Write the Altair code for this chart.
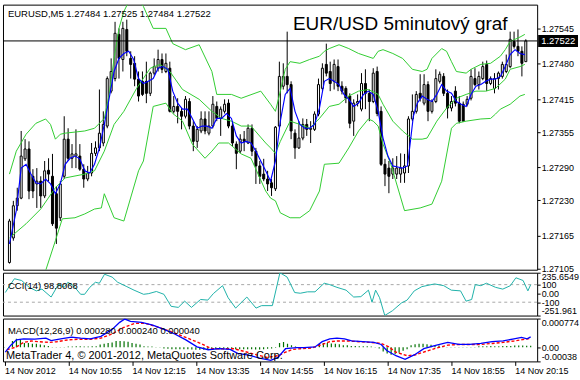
import altair as alt
import pandas as pd

FONT = "Liberation Sans"
PLOT_W = 536
XDOM = [-0.375, 133.625]

# ---------------- data (prices stored in points: price = 1 + pts / 100000) ----------------
open_pts = [
27116,27161,27220,27234,27306,27324,27274,27260,27265,27238,
27285,27274,27242,27198,27274,27342,27307,27311,27311,27287,
27269,27280,27316,27326,27335,27366,27430,27453,27534,27488,
27543,27490,27481,27452,27448,27448,27426,27463,27472,27488,
27466,27472,27393,27402,27393,27384,27411,27366,27338,27357,
27379,27353,27366,27402,27380,27393,27408,27366,27333,27320,
27342,27335,27362,27320,27293,27278,27269,27262,27251,27366,
27439,27457,27442,27353,27326,27344,27369,27360,27360,27388,
27435,27479,27466,27448,27475,27439,27435,27421,27375,27408,
27397,27444,27426,27411,27466,27393,27296,27289,27278,27278,
27278,27280,27293,27379,27393,27426,27408,27442,27393,27411,
27448,27457,27426,27399,27430,27408,27406,27406,27417,27453,
27442,27453,27479,27444,27435,27453,27457,27466,27475,27521,
27512,27503,27484]
high_pts = [
27196,27229,27253,27357,27342,27338,27287,27289,27274,27302,
27307,27315,27256,27265,27384,27362,27333,27360,27333,27296,
27293,27335,27338,27433,27393,27457,27490,27557,27545,27557,
27561,27503,27494,27466,27466,27484,27466,27490,27506,27499,
27499,27484,27421,27417,27399,27421,27417,27375,27366,27393,
27393,27393,27421,27411,27402,27415,27415,27375,27338,27351,
27357,27369,27369,27326,27302,27306,27284,27269,27366,27484,
27481,27539,27448,27360,27375,27380,27379,27375,27393,27453,
27481,27517,27484,27488,27488,27448,27439,27426,27415,27424,
27463,27470,27433,27472,27475,27402,27306,27302,27307,27311,
27316,27315,27384,27424,27430,27461,27461,27448,27415,27470,
27466,27463,27433,27421,27439,27421,27411,27421,27470,27472,
27466,27484,27486,27457,27463,27466,27484,27497,27539,27539,
27543,27512,27525]
low_pts = [
27114,27156,27211,27232,27302,27232,27234,27216,27216,27234,
27265,27183,27150,27192,27269,27302,27289,27289,27284,27253,
27265,27274,27311,27320,27329,27362,27426,27448,27453,27466,
27494,27453,27439,27411,27421,27408,27421,27459,27466,27463,
27463,27391,27389,27371,27360,27380,27360,27320,27326,27353,
27351,27349,27362,27375,27348,27389,27362,27329,27287,27316,
27320,27333,27311,27260,27260,27265,27247,27238,27247,27362,
27433,27426,27342,27306,27324,27340,27348,27335,27357,27384,
27431,27457,27430,27433,27430,27424,27408,27362,27348,27402,
27393,27397,27375,27408,27384,27293,27256,27243,27269,27269,
27262,27262,27280,27375,27389,27411,27404,27375,27389,27408,
27444,27421,27380,27393,27402,27371,27375,27402,27413,27439,
27433,27450,27430,27441,27426,27433,27453,27463,27472,27508,
27494,27457,27484]
close_pts = [
27192,27220,27234,27311,27324,27247,27247,27265,27238,27284,
27278,27187,27179,27260,27342,27307,27315,27315,27287,27269,
27280,27316,27326,27353,27369,27453,27466,27536,27490,27545,
27503,27479,27452,27421,27424,27426,27463,27475,27488,27470,
27481,27393,27402,27393,27384,27415,27366,27338,27360,27379,
27357,27366,27406,27380,27397,27406,27366,27335,27316,27342,
27338,27362,27320,27293,27274,27269,27260,27253,27364,27457,
27457,27442,27357,27326,27344,27369,27360,27362,27388,27442,
27472,27463,27444,27479,27439,27430,27417,27371,27408,27411,
27444,27426,27411,27463,27389,27296,27278,27274,27289,27289,
27289,27293,27379,27393,27424,27417,27442,27393,27411,27453,
27461,27426,27399,27411,27408,27375,27375,27415,27457,27442,
27457,27475,27444,27453,27453,27463,27479,27479,27525,27512,
27503,27481,27522]

# blue moving average (bar position, points)
ma_pos = [0,1.75,3,4.25,5.5,6.75,8,9.25,10.5,11.75,13,14.25,15.5,16.75,18,19.25,20.5,21.75,23,24.25,
          25.5,26.75,28,29.25,30.5,31.75,33,34.25,35.5,36.75,38,39.25,40.5,41.75,43,44.25,45.5,46.75,48,49.25,
          50.5,51.75,53,54.25,55.5,56.75,58,59.25,60.5,61.75,63,64.25,65.5,66.75,68,69.25,70.5,71.75,73,74.25,
          75.5,76.75,78,79.25,80.5,81.75,83,84.25,85.5,86.75,88,89.25,90.5,91.75,93,94.25,95.5,96.75,98,99.25,
          100.5,101.75,102.5,103.25,104.25,105.5,106.75,108,109.25,110.5,111.75,113,114.25,115.5,116.75,118,
          119.25,120.5,121.75,123,124.25,125.5,126.75,128,129.25,130.5,131.75]
ma_pts = [27150,27211,27289,27296,27278,27262,27260,27269,27260,27242,27260,27296,27307,27311,27306,27284,27280,27296,27326,27369,
          27417,27466,27490,27499,27503,27488,27453,27444,27448,27453,27472,27475,27470,27430,27408,27397,27397,27380,27362,27366,
          27366,27362,27380,27380,27389,27380,27348,27335,27338,27335,27320,27302,27284,27265,27302,27375,27424,27435,27393,27369,
          27362,27362,27369,27399,27448,27453,27448,27442,27424,27415,27402,27408,27424,27430,27424,27393,27344,27311,27293,27291,
          27289,27293,27338,27384,27408,27421,27415,27411,27424,27442,27430,27426,27411,27406,27402,27424,
          27439,27442,27448,27452,27452,27457,27475,27497,27506,27499,27497]

# Bollinger bands
upper_pos = [0,1.75,4.25,6.75,9.25,10.5,11.75,13,14.25,19.25,21.75,24.25,25.5,26.75,28,29.25,31.75,34.25,36.75,40,
             41.75,45,48.5,51.75,53,56.75,59.25,64.25,66.75,68,69.25,70.5,71.75,74.25,76.75,79.25,80.5,81.75,84.25,86.75,
             89.25,93,94.25,95.5,98,100.5,103,105.5,106.75,108,110.5,111.75,113,114.25,116.75,118,120.5,123,125.5,126.75,
             128,130.5,131.75]
upper_pts = [27278,27320,27351,27371,27379,27369,27342,27351,27353,27357,27362,27380,27424,27490,27545,27576,27612,27585,27545,27545,
             27517,27506,27515,27466,27424,27424,27417,27430,27406,27393,27430,27470,27484,27481,27488,27494,27503,27508,27515,27508,
             27499,27490,27503,27506,27499,27490,27470,27466,27470,27490,27508,27503,27484,27466,27463,27470,27479,27481,27494,27506,
             27521,27529,27534]
middle_pos = [0,4.25,8,11.75,14.25,19.25,21.75,24.25,26.75,29.25,32.5,36,38.5,41,44.25,48.5,51.75,54.25,56.75,59.25,
              61.75,65.5,66.75,68,69.25,71.75,74.25,76.75,79.25,81.75,84.25,86.75,89.25,91.75,94.25,95.5,98,100.5,103,105.5,
              106.75,109.25,111.75,114.25,116.75,119.25,121.75,124.25,126.75,128,130.5,131.75]
middle_pts = [27161,27187,27214,27253,27271,27278,27284,27320,27369,27393,27435,27472,27479,27466,27433,27415,27393,27380,27375,27366,
              27366,27335,27326,27316,27338,27375,27369,27362,27380,27402,27406,27421,27430,27433,27424,27406,27375,27357,27342,27342,
              27344,27375,27399,27417,27424,27430,27430,27435,27452,27470,27475,27479]
lower_pos = [0,4.25,9.25,11.75,13.5,16.75,19.25,21.75,23.5,24.25,26.75,29.25,33,34.25,36.75,40,41.75,44.25,46.75,50,
             51.75,53.5,56,59.25,61.75,65.5,66.75,68,69.25,71.75,74.25,76.75,79.25,80.5,84.25,86.75,89.25,91.75,93,94.25,
             95.5,97.5,101,105,108,110.5,113,114.25,116.75,120.5,123,124.25,125.5,128,130.5,131.75]
lower_pts = [26991,27046,27101,27156,27196,27198,27205,27214,27216,27242,27198,27192,27284,27302,27402,27408,27389,27375,27333,27307,
             27320,27335,27335,27315,27307,27247,27234,27229,27207,27198,27198,27211,27247,27296,27298,27326,27357,27379,27375,27366,
             27333,27296,27211,27216,27223,27265,27362,27371,27375,27379,27380,27388,27397,27406,27421,27424]

# CCI(14)
cci_pos = [0.2,1.6,2.5,4.3,6.2,8.0,9.4,11.7,13.6,15.0,15.9,17.3,19.1,20.1,21.4,22.8,23.8,25.1,27.0,28.4,
           30.7,32.5,34.9,36.2,38.1,40.0,41.8,43.6,45.2,46.9,49.2,51.0,52.4,54.7,56.1,58.0,60.8,63.1,64.5,67.2,
           69.1,70.9,72.8,74.2,76.0,77.9,80.2,81.6,83.4,85.7,87.6,89.4,91.3,92.2,93.1,94.1,95.4,97.3,99.6,101.0,
           102.8,104.7,107.9,110.2,112.1,114.4,115.8,117.2,118.1,119.5,120.9,123.2,125.0,126.9,128.3,130.1,131.3,132.0]
cci_val = [10,108,167,147,69,29,49,-41,108,69,127,88,-10,-10,69,127,116,218,186,127,
           77,37,-10,-2,22,-10,-147,-159,-88,-159,-69,-76,-2,88,-49,-167,-41,-167,-139,-139,
           235,186,10,2,18,18,116,100,69,37,-41,-37,37,-100,37,-49,-251,-198,-108,-76,
           29,77,108,88,37,29,-88,-69,100,88,116,69,49,88,178,147,29,98.8]
cci_levels = [100, -100]
cci_ticks = [235.6549, 100, 0, -100, -251.961]
cci_tick_text = ["235.6549", "100", "0.00", "-100", "-251.961"]

# MACD(12,26,9)  (values in millionths)
macd_pos = [0.2,1.6,3.0,4.8,7.6,10.4,11.7,14.1,16.8,19.1,21.5,24.2,27.0,28.9,30.2,31.6,34.4,37.2,40.0,42.7,
            45.5,48.3,51.1,53.8,56.6,58.5,61.2,64.0,66.8,68.6,70.5,73.3,75.1,77.9,79.7,81.6,83.4,85.3,87.1,89.9,
            92.7,94.5,95.9,98.2,100.5,102.9,105.2,108.4,111.2,114.0,116.7,119.5,122.3,125.1,127.8,129.7,131.1,132.0]
macd_e6 = [-132,57,199,227,218,246,180,227,274,246,227,293,482,672,760,700,672,596,482,359,
           199,10,-66,-38,-57,-161,-208,-293,-350,-274,-38,-10,-10,10,151,227,246,227,170,151,
           132,76,-85,-227,-322,-199,-38,57,132,76,76,104,151,170,227,265,227,280]
sig_pos = [0.6,3.0,4.8,6.7,8.5,11.3,13.1,15.9,18.7,21.5,24.2,27.0,29.8,32.6,35.3,38.1,40.9,43.7,46.4,49.2,
           52.0,54.8,57.5,60.3,63.1,65.9,68.6,70.5,72.3,74.2,77.0,79.7,81.6,83.4,86.2,89.0,91.8,94.5,96.4,98.2,
           101.0,102.9,105.6,108.4,111.2,114.0,116.7,119.5,122.3,125.1,127.8,130.6,132.0]
sig_e6 = [-66,10,132,170,151,132,151,199,218,218,246,359,530,643,643,558,454,341,227,104,
          -38,-38,-38,-114,-199,-274,-227,-132,-57,-38,-19,76,151,170,170,151,132,104,10,-132,
          -227,-208,-114,-19,57,76,76,76,104,132,170,218,240]
hist_e6 = [
    10,10,170,230,210,114,114,95,95,76,
    57,38,10,10,10,10,20,20,28,28,
    20,20,28,28,76,95,114,132,170,170,
    160,150,114,95,76,28,20,20,10,10,
    -30,-40,-50,-50,-50,-55,-55,-60,-65,-65,
    -65,-65,-60,-55,-50,-50,-50,-55,-55,-55,
    -50,-50,-55,-60,-60,-50,-40,-30,-15,114,
    140,95,57,20,10,10,10,10,10,95,
    114,114,104,95,85,57,57,38,38,28,
    28,28,20,10,-30,-110,-170,-200,-190,-150,
    -95,-50,57,85,95,95,85,66,57,47,
    38,10,10,10,10,10,10,10,10,28,
    28,28,38,28,28,38,38,38,47,47,
    47,40,40]
macd_ticks = [0.000774, 0.0, -0.00038]
macd_tick_text = ["0.000774", "0.00", "-0.00038"]

# axes / annotations
price_ticks = [1.27105, 1.27165, 1.27230, 1.27290, 1.27355, 1.27415, 1.27480, 1.27545]
time_ticks = [0, 16, 32, 48, 64, 80, 96, 112, 128]
time_labels = ["14 Nov 2012", "14 Nov 10:55", "14 Nov 12:15", "14 Nov 13:35", "14 Nov 14:55",
               "14 Nov 16:15", "14 Nov 17:35", "14 Nov 18:55", "14 Nov 20:15"]
header_text = ["EURUSD,M5  1.27484 1.27525 1.27484 1.27522"]
title_text = ["EUR/USD 5minutový graf"]
last_price = [1.27522]
last_price_text = ["1.27522"]
cci_text = ["CCI(14) 98.8068"]
macd_text = ["MACD(12,26,9) 0.000280 0.000240 0.000040"]
copyright_text = ["MetaTrader 4, © 2001-2012, MetaQuotes Software Corp."]


def to_price(v):
    return round(1.0 + v / 100000.0, 6)


def expr_for(vals, texts, tol):
    e = "''"
    for v, t in reversed(list(zip(vals, texts))):
        e = f"abs(datum.value - ({v})) < {tol} ? '{t}' : {e}"
    return e


candles = pd.DataFrame({
    "bar": list(range(len(open_pts))),
    "open": [to_price(v) for v in open_pts],
    "high": [to_price(v) for v in high_pts],
    "low": [to_price(v) for v in low_pts],
    "close": [to_price(v) for v in close_pts],
})
ma_df = pd.DataFrame({"pos": ma_pos, "price": [to_price(v) for v in ma_pts]})
bands = pd.concat([
    pd.DataFrame({"pos": upper_pos, "price": [to_price(v) for v in upper_pts], "band": "upper"}),
    pd.DataFrame({"pos": middle_pos, "price": [to_price(v) for v in middle_pts], "band": "middle"}),
    pd.DataFrame({"pos": lower_pos, "price": [to_price(v) for v in lower_pts], "band": "lower"}),
])
cci_df = pd.DataFrame({"pos": cci_pos, "cci": cci_val})
lev_df = pd.DataFrame({"lev": cci_levels})
macd_df = pd.DataFrame({"pos": macd_pos, "v": [x * 1e-6 for x in macd_e6]})
sig_df = pd.DataFrame({"pos": sig_pos, "v": [x * 1e-6 for x in sig_e6]})
hist_df = pd.DataFrame({"bar": list(range(len(hist_e6))), "h": [x * 1e-6 for x in hist_e6]})

XS = alt.Scale(domain=XDOM, nice=False, zero=False)
YS = alt.Scale(domain=[1.271028, 1.275885], nice=False, zero=False)
YC = alt.Scale(domain=[-251.961, 235.6549], nice=False, zero=False)
YM = alt.Scale(domain=[-0.00038, 0.000774], nice=False, zero=False)

axis_common = dict(orient="right", title=None, grid=False, domain=False, tickSize=3, tickColor="black",
                   labelColor="black", labelFontSize=9, labelFont=FONT, labelPadding=1, labelOverlap=False)
YAX = alt.Axis(values=price_ticks, format=".5f", **axis_common)
CAX = alt.Axis(values=cci_ticks, labelExpr=expr_for(cci_ticks, cci_tick_text, 0.001), labelFlush=True, **axis_common)
MAX_ = alt.Axis(values=macd_ticks, labelExpr=expr_for(macd_ticks, macd_tick_text, 1e-9), labelFlush=True, **axis_common)
XAX = alt.Axis(values=time_ticks, labelExpr=expr_for(time_ticks, time_labels, 0.01), title=None, grid=False,
               domain=False, tickSize=4, tickColor="black", labelColor="black", labelFontSize=9, labelFont=FONT,
               labelAlign="left", labelBaseline="top", labelPadding=1, labelFlush=False, labelOverlap=False)


def xq(field, axis=None):
    return alt.X(f"{field}:Q", scale=XS, axis=axis, title=None)


def ym(field):
    return alt.Y(f"{field}:Q", scale=YS, axis=YAX, title=None)


# ---------------- main panel ----------------
wicks = alt.Chart(candles).mark_rule(color="black", strokeWidth=1, clip=True).encode(
    x=xq("bar"), y=ym("low"), y2="high:Q")
bodies = alt.Chart(candles).mark_bar(size=2, stroke="black", strokeWidth=1, clip=True).encode(
    x=xq("bar"), y=ym("open"), y2="close:Q",
    fill=alt.condition("datum.close >= datum.open", alt.value("white"), alt.value("black")))
band_lines = alt.Chart(bands).mark_line(color="#32CD32", strokeWidth=1, clip=True).encode(
    x=xq("pos"), y=ym("price"), detail="band:N")
ma_line = alt.Chart(ma_df).mark_line(color="#0000FF", strokeWidth=1.15, clip=True).encode(
    x=xq("pos"), y=ym("price"))
lp_df = pd.DataFrame({"p": last_price, "t": last_price_text})
price_line = alt.Chart(lp_df).mark_rule(color="black", strokeWidth=1).encode(y=ym("p"))
price_tag = alt.Chart(lp_df).mark_rect(color="black", yOffset=-6, y2Offset=6).encode(
    y=ym("p"), y2="p:Q", x=alt.value(PLOT_W + 1), x2=alt.value(PLOT_W + 41))
price_tag_text = alt.Chart(lp_df).mark_text(color="white", align="left", baseline="middle",
                                            fontSize=9.5, font=FONT).encode(
    y=ym("p"), x=alt.value(PLOT_W + 4), text="t:N")
header = alt.Chart(pd.DataFrame({"t": header_text})).mark_text(
    align="left", baseline="middle", fontSize=9.5, font=FONT, color="black").encode(
    x=alt.value(5), y=alt.value(9), text="t:N")
title = alt.Chart(pd.DataFrame({"t": title_text})).mark_text(
    align="left", baseline="alphabetic", fontSize=19, font=FONT, color="black").encode(
    x=alt.value(291), y=alt.value(25), text="t:N")

main = alt.layer(wicks, bodies, band_lines, ma_line, price_line, price_tag, price_tag_text, header, title
                 ).properties(width=PLOT_W, height=266)

# ---------------- CCI panel ----------------
cci_levels_layer = alt.Chart(lev_df).mark_rule(color="#A8A8A8", strokeDash=[3, 3], strokeWidth=1).encode(
    y=alt.Y("lev:Q", scale=YC, axis=CAX, title=None))
cci_line = alt.Chart(cci_df).mark_line(color="#20B2AA", strokeWidth=1, clip=True).encode(
    x=xq("pos"), y=alt.Y("cci:Q", scale=YC, axis=CAX, title=None))
cci_label = alt.Chart(pd.DataFrame({"t": cci_text})).mark_text(
    align="left", baseline="middle", fontSize=9.5, font=FONT, color="black").encode(
    x=alt.value(5), y=alt.value(13), text="t:N")
cci = alt.layer(cci_levels_layer, cci_line, cci_label).properties(width=PLOT_W, height=43)

# ---------------- MACD panel ----------------
hist = alt.Chart(hist_df).mark_rule(color="#007000", strokeWidth=1.2, clip=True).encode(
    x=xq("bar", XAX), y=alt.Y("h:Q", scale=YM, axis=MAX_, title=None), y2=alt.datum(0))
macd_line = alt.Chart(macd_df).mark_line(color="#0000FF", strokeWidth=1.3, clip=True).encode(
    x=xq("pos", XAX), y=alt.Y("v:Q", scale=YM, axis=MAX_, title=None))
sig_line = alt.Chart(sig_df).mark_line(color="#FF0000", strokeWidth=1.4, strokeDash=[3, 2], clip=True).encode(
    x=xq("pos", XAX), y=alt.Y("v:Q", scale=YM, axis=MAX_, title=None))
macd_label = alt.Chart(pd.DataFrame({"t": macd_text})).mark_text(
    align="left", baseline="middle", fontSize=9.5, font=FONT, color="black").encode(
    x=alt.value(5), y=alt.value(12), text="t:N")
copyright_label = alt.Chart(pd.DataFrame({"t": copyright_text})).mark_text(
    align="left", baseline="alphabetic", fontSize=11, font=FONT, color="black").encode(
    x=alt.value(3), y=alt.value(41), text="t:N")
macd = alt.layer(hist, sig_line, macd_line, macd_label, copyright_label).properties(width=PLOT_W, height=43)

chart = alt.vconcat(main, cci, macd, spacing=3).properties(
    padding={"left": 2, "top": 3, "right": 0, "bottom": 0}, bounds="flush", background="white"
).configure_view(stroke="black", strokeWidth=1)

chart.save("out.html", embed_options={"renderer": "svg", "actions": False})
